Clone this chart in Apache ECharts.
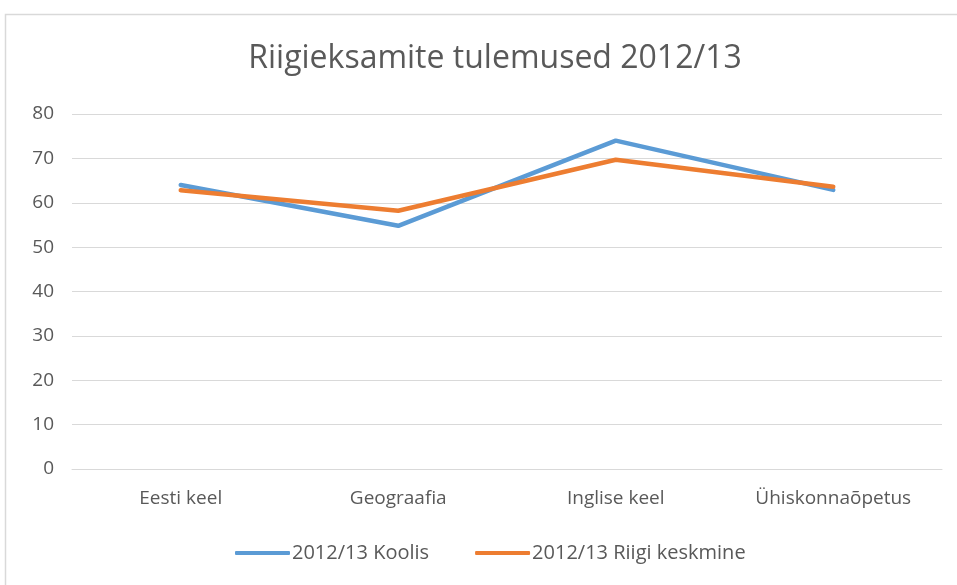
<!DOCTYPE html>
<html>
<head>
<meta charset="utf-8">
<script src="https://cdn.jsdelivr.net/npm/echarts@6/dist/echarts.min.js"></script>
<style>
  html, body { margin: 0; padding: 0; background: #fff; }
  #main { width: 957px; height: 585px; }
</style>
</head>
<body>
<div id="main"></div>
<script>
const categories = ["Eesti keel", "Geograafia", "Inglise keel", "Ühiskonnaõpetus"];
const koolis = [64.0, 54.8, 74.0, 62.9];
const riigiKeskmine = [62.8, 58.2, 69.7, 63.6];
const seriesNames = ["2012/13 Koolis", "2012/13 Riigi keskmine"];

const font = "'Open Sans', sans-serif";
const myChart = echarts.init(document.getElementById("main"));

const option = {
  backgroundColor: "#fff",
  textStyle: { fontFamily: font },
  graphic: [
    {
      type: "rect",
      shape: { x: 5.5, y: 14.5, width: 990, height: 600 },
      style: { fill: "none", stroke: "#d9d9d9", lineWidth: 1.5 },
      silent: true
    }
  ],
  title: {
    text: "Riigieksamite tulemused 2012/13",
    left: 490,
    textAlign: "center",
    top: 38,
    textStyle: { fontFamily: font, fontSize: 32, fontWeight: "normal", color: "#595959" }
  },
  legend: {
    data: seriesNames,
    top: 538,
    left: 230,
    itemWidth: 55,
    itemHeight: 4,
    itemGap: 46,
    icon: "roundRect",
    textStyle: { fontFamily: font, fontSize: 20, color: "#595959", padding: [0, 0, 0, -3] }
  },
  grid: { left: 72, right: 15, top: 114, bottom: 116 },
  xAxis: {
    type: "category",
    data: categories,
    boundaryGap: true,
    axisLine: { lineStyle: { color: "#d9d9d9" } },
    axisTick: { show: false },
    axisLabel: { fontFamily: font, fontSize: 19, color: "#595959", margin: 20 }
  },
  yAxis: {
    type: "value",
    min: 0,
    max: 80,
    interval: 10,
    axisLine: { show: false },
    axisTick: { show: false },
    splitLine: { lineStyle: { color: "#d9d9d9", width: 1 } },
    axisLabel: { fontFamily: font, fontSize: 19, color: "#595959", margin: 18 }
  },
  series: [
    {
      name: seriesNames[0],
      type: "line",
      data: koolis,
      symbol: "none",
      color: "#5b9bd5",
      lineStyle: { width: 4.5, color: "#5b9bd5", cap: "round" }
    },
    {
      name: seriesNames[1],
      type: "line",
      data: riigiKeskmine,
      symbol: "none",
      color: "#ed7d31",
      lineStyle: { width: 4.5, color: "#ed7d31", cap: "round" }
    }
  ]
};
myChart.setOption(option);
</script>
</body>
</html>
